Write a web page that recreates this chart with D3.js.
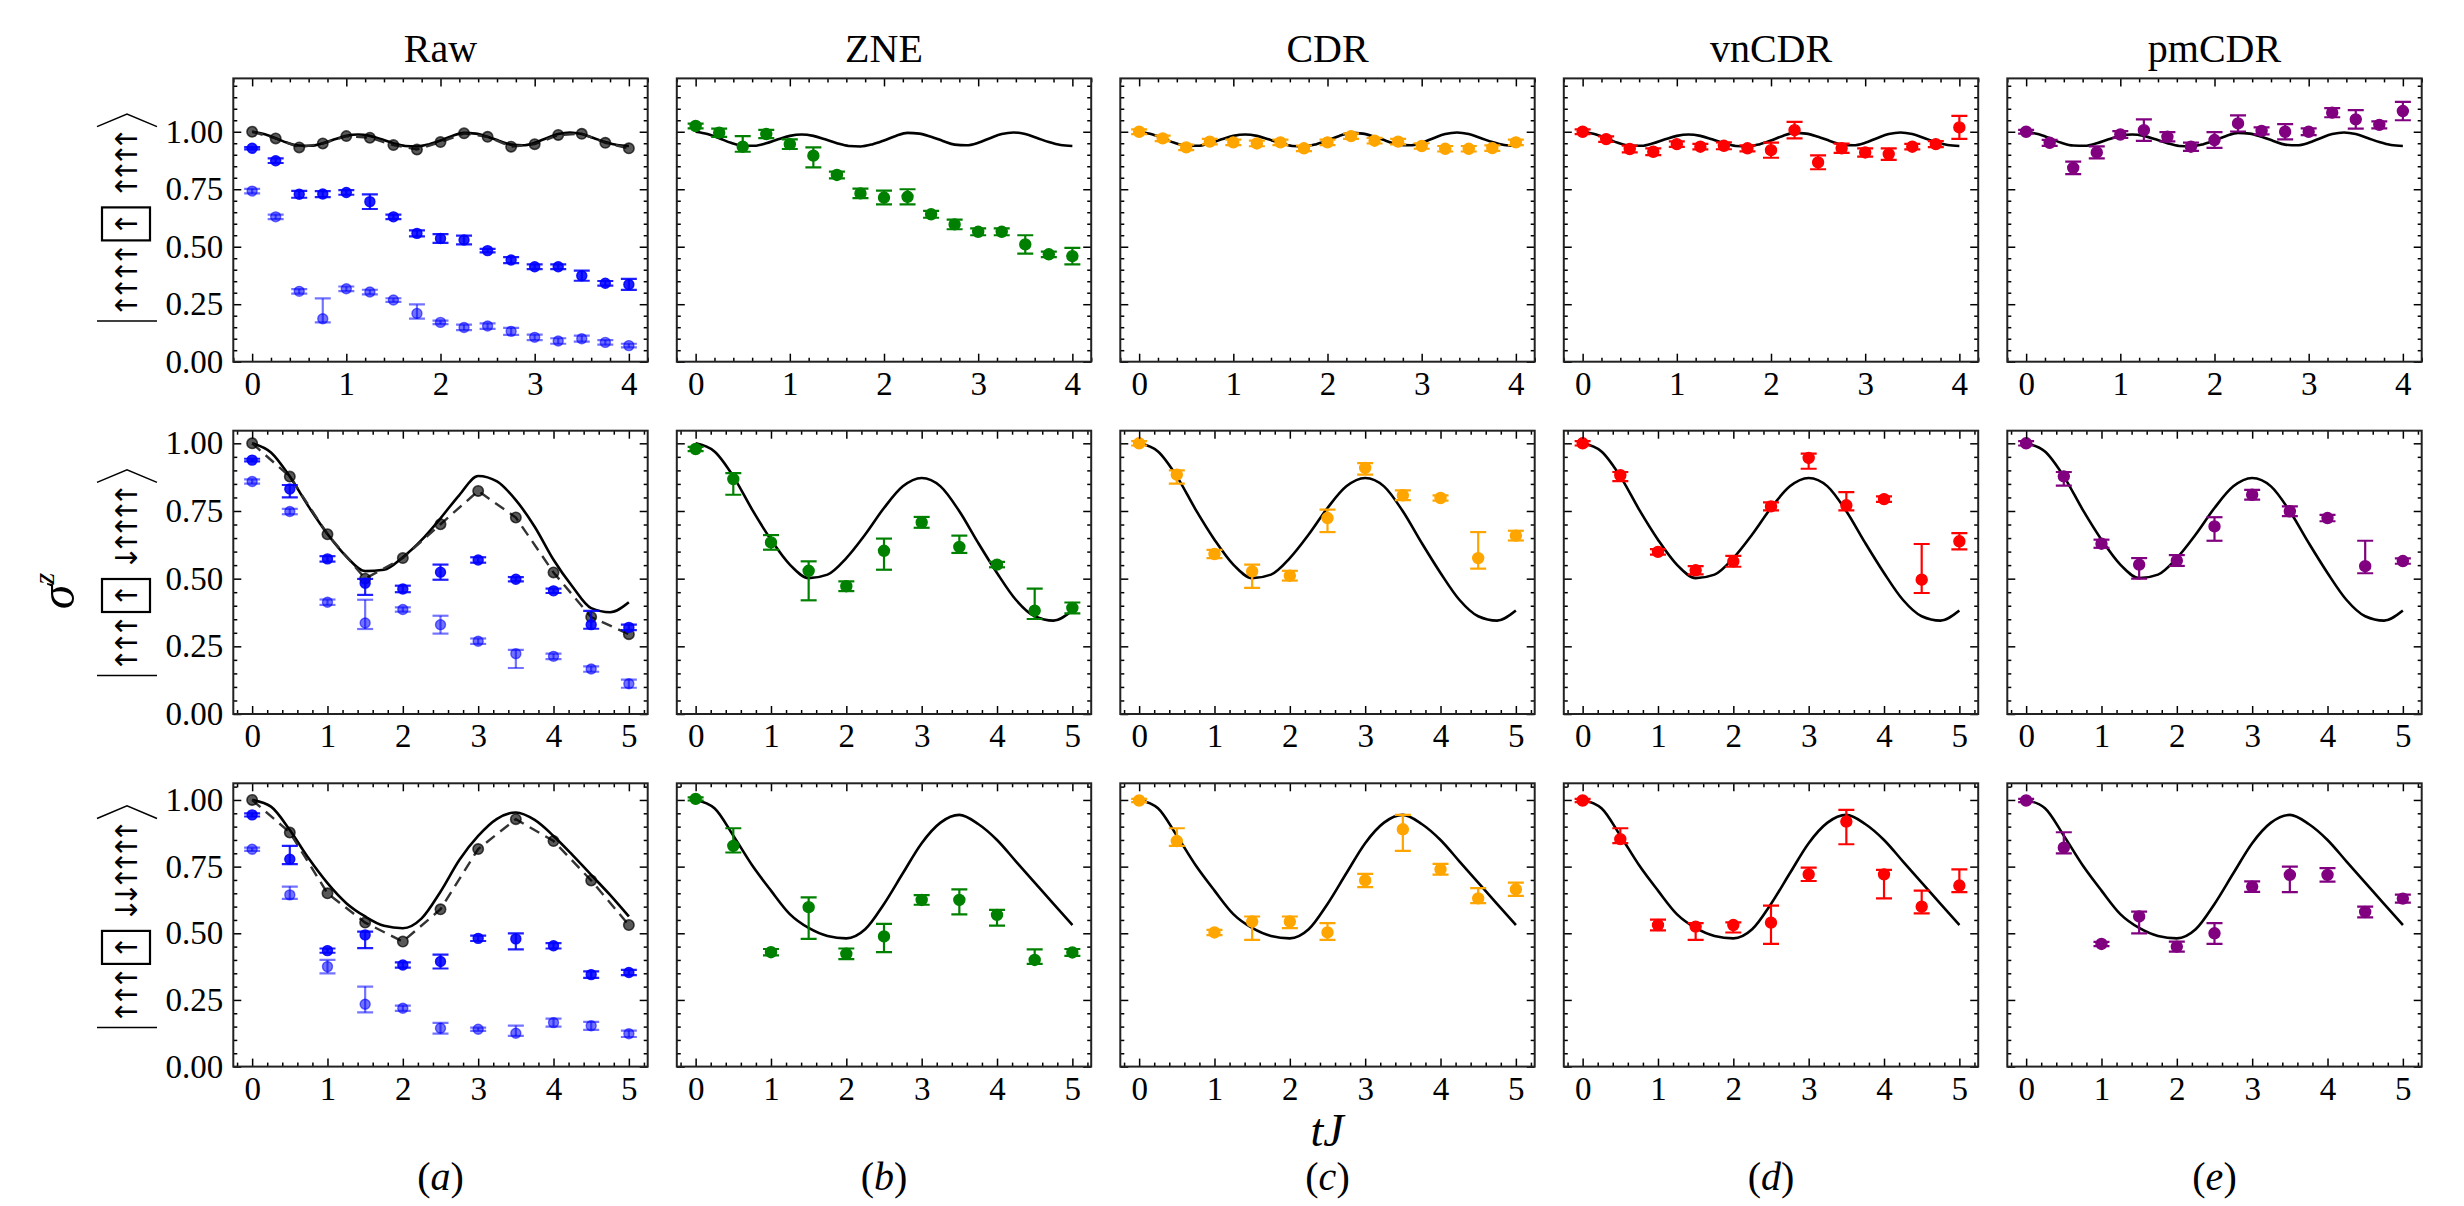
<!DOCTYPE html>
<html><head><meta charset="utf-8">
<script src="https://cdn.jsdelivr.net/npm/d3@7"></script>
<style>body{margin:0;background:#fff}</style>
</head><body><div id="chart"></div>
<script>
// ---------------- DATA ----------------
const panelTitles = ["Raw", "ZNE", "CDR", "vnCDR", "pmCDR"];
const panelLetters = ["a", "b", "c", "d", "e"];
const xTicksRow1 = [0, 1, 2, 3, 4];
const xTicksRow23 = [0, 1, 2, 3, 4, 5];
const yTicks = [0, 0.25, 0.5, 0.75, 1.0];
// ket labels (from start of text to end): u = up, d = down, B = boxed up
const ketRows = ["uuuuBuuuu", "uuuBduuuu", "uuuBdduuuu"];

const tRow1 = [0, 0.25, 0.5, 0.75, 1, 1.25, 1.5, 1.75, 2, 2.25, 2.5, 2.75, 3, 3.25, 3.5, 3.75, 4];
const tRow23 = [0, 0.5, 1, 1.5, 2, 2.5, 3, 3.5, 4, 4.5, 5];
const tCurve1 = [0, 0.125, 0.25, 0.375, 0.5, 0.625, 0.75, 0.875, 1, 1.125, 1.25, 1.375, 1.5, 1.625, 1.75, 1.875, 2,
  2.125, 2.25, 2.375, 2.5, 2.625, 2.75, 2.875, 3, 3.125, 3.25, 3.375, 3.5, 3.625, 3.75, 3.875, 4];
const tCurve23 = [0, 0.25, 0.5, 0.75, 1, 1.25, 1.5, 1.75, 2, 2.25, 2.5, 2.75, 3, 3.25, 3.5, 3.75, 4, 4.25, 4.5, 4.75, 5];

// exact curves
const exact1 = [1.000, 0.990, 0.972, 0.952, 0.940, 0.939, 0.950, 0.967, 0.982, 0.988, 0.982, 0.967, 0.950, 0.938, 0.936, 0.945, 0.962,
  0.982, 0.995, 0.992, 0.978, 0.960, 0.944, 0.941, 0.952, 0.972, 0.990, 0.997, 0.990, 0.973, 0.955, 0.942, 0.938];
const rawExact2 = [1.0, 0.966, 0.877, 0.766, 0.665, 0.582, 0.528, 0.533, 0.579, 0.643, 0.723, 0.809, 0.879, 0.859, 0.79, 0.692, 0.57, 0.471, 0.391, 0.376, 0.413];
const exact2 = [1.0, 0.97, 0.878, 0.755, 0.644, 0.552, 0.502, 0.515, 0.576, 0.663, 0.761, 0.841, 0.872, 0.841, 0.749, 0.632, 0.521, 0.422, 0.361, 0.345, 0.382];
const rawExact3 = [1.0, 0.975, 0.887, 0.781, 0.688, 0.613, 0.563, 0.528, 0.519, 0.556, 0.656, 0.775, 0.865, 0.929, 0.953, 0.925, 0.865, 0.794, 0.719, 0.644, 0.563];
const exact3 = [1.0, 0.969, 0.866, 0.755, 0.66, 0.572, 0.52, 0.49, 0.481, 0.515, 0.61, 0.725, 0.838, 0.915, 0.944, 0.91, 0.85, 0.77, 0.69, 0.61, 0.531];

// ---- row 1 ----
const rawBlack1 = [1.0, 0.971, 0.932, 0.949, 0.981, 0.974, 0.942, 0.923, 0.955, 0.993, 0.978, 0.935, 0.946, 0.986, 0.991, 0.952, 0.928];
const rawDark1 = [0.928, 0.874, 0.728, 0.729, 0.736, 0.696, 0.630, 0.558, 0.536, 0.529, 0.483, 0.442, 0.413, 0.413, 0.374, 0.341, 0.336];
const rawDark1Lo = [0.005, 0.01, 0.015, 0.013, 0.01, 0.032, 0.01, 0.013, 0.019, 0.019, 0.008, 0.013, 0.01, 0.01, 0.022, 0.01, 0.024];
const rawDark1Hi = [0.005, 0.01, 0.015, 0.013, 0.01, 0.032, 0.01, 0.013, 0.019, 0.019, 0.008, 0.013, 0.01, 0.01, 0.022, 0.01, 0.024];
const rawLight1 = [0.742, 0.630, 0.306, 0.187, 0.317, 0.303, 0.268, 0.210, 0.171, 0.149, 0.155, 0.132, 0.106, 0.090, 0.100, 0.084, 0.070];
const rawLight1Lo = [0.01, 0.01, 0.01, 0.016, 0.01, 0.01, 0.008, 0.023, 0.008, 0.012, 0.012, 0.015, 0.012, 0.012, 0.013, 0.01, 0.008];
const rawLight1Hi = [0.01, 0.01, 0.01, 0.088, 0.01, 0.01, 0.008, 0.039, 0.008, 0.012, 0.012, 0.015, 0.012, 0.012, 0.013, 0.01, 0.008];
const zne1 = [1.025, 0.996, 0.935, 0.990, 0.946, 0.896, 0.812, 0.732, 0.714, 0.717, 0.641, 0.597, 0.565, 0.565, 0.510, 0.467, 0.459];
const zne1Lo = [0.01, 0.018, 0.022, 0.018, 0.021, 0.051, 0.015, 0.021, 0.03, 0.033, 0.015, 0.021, 0.015, 0.015, 0.04, 0.012, 0.036];
const zne1Hi = [0.01, 0.018, 0.046, 0.018, 0.021, 0.036, 0.015, 0.021, 0.03, 0.033, 0.015, 0.021, 0.015, 0.015, 0.04, 0.012, 0.036];
const cdr1 = [1.0, 0.971, 0.932, 0.957, 0.954, 0.949, 0.954, 0.928, 0.954, 0.981, 0.961, 0.957, 0.938, 0.926, 0.926, 0.929, 0.954];
const cdr1Err = [0.01, 0.012, 0.012, 0.012, 0.012, 0.012, 0.012, 0.012, 0.012, 0.012, 0.012, 0.012, 0.012, 0.012, 0.012, 0.012, 0.012];
const vn1 = [1.0, 0.968, 0.925, 0.913, 0.946, 0.935, 0.939, 0.928, 0.920, 1.007, 0.867, 0.928, 0.910, 0.903, 0.935, 0.946, 1.019];
const vn1Err = [0.01, 0.012, 0.015, 0.015, 0.012, 0.012, 0.015, 0.013, 0.033, 0.036, 0.03, 0.02, 0.018, 0.025, 0.012, 0.013, 0.05];
const pm1 = [1.0, 0.952, 0.843, 0.910, 0.988, 1.007, 0.978, 0.935, 0.964, 1.036, 1.004, 1.0, 1.0, 1.083, 1.054, 1.03, 1.09];
const pm1Err = [0.008, 0.013, 0.027, 0.026, 0.015, 0.047, 0.02, 0.018, 0.034, 0.035, 0.015, 0.033, 0.015, 0.02, 0.04, 0.015, 0.04];

// ---- row 2 ----
const rawBlack2 = [1.0, 0.877, 0.664, 0.50, 0.576, 0.701, 0.824, 0.726, 0.523, 0.358, 0.295];
const rawDark2 = [0.938, 0.831, 0.573, 0.483, 0.462, 0.524, 0.569, 0.498, 0.455, 0.330, 0.320];
const rawDark2Lo = [0.005, 0.031, 0.01, 0.043, 0.012, 0.028, 0.01, 0.008, 0.008, 0.015, 0.01];
const rawDark2Hi = [0.005, 0.015, 0.01, 0.016, 0.012, 0.028, 0.01, 0.008, 0.008, 0.051, 0.01];
const rawLight2 = [0.859, 0.748, 0.413, 0.336, 0.386, 0.330, 0.269, 0.223, 0.213, 0.166, 0.112];
const rawLight2Lo = [0.008, 0.01, 0.01, 0.022, 0.008, 0.033, 0.01, 0.053, 0.01, 0.01, 0.015];
const rawLight2Hi = [0.008, 0.01, 0.01, 0.086, 0.008, 0.033, 0.01, 0.014, 0.01, 0.01, 0.015];
const zne2 = [0.979, 0.868, 0.634, 0.529, 0.472, 0.603, 0.708, 0.617, 0.552, 0.382, 0.392];
const zne2Lo = [0.008, 0.058, 0.027, 0.109, 0.018, 0.07, 0.02, 0.022, 0.01, 0.031, 0.02];
const zne2Hi = [0.008, 0.022, 0.027, 0.035, 0.018, 0.045, 0.02, 0.042, 0.01, 0.081, 0.02];
const cdr2 = [1.0, 0.884, 0.591, 0.527, 0.511, 0.724, 0.909, 0.808, 0.798, 0.576, 0.659];
const cdr2Lo = [0.008, 0.033, 0.015, 0.061, 0.018, 0.052, 0.025, 0.018, 0.01, 0.039, 0.018];
const cdr2Hi = [0.008, 0.016, 0.015, 0.025, 0.018, 0.031, 0.018, 0.018, 0.01, 0.096, 0.018];
const vn2 = [1.0, 0.882, 0.599, 0.531, 0.564, 0.767, 0.946, 0.771, 0.794, 0.496, 0.638];
const vn2Lo = [0.008, 0.022, 0.01, 0.015, 0.02, 0.015, 0.04, 0.019, 0.01, 0.049, 0.03];
const vn2Hi = [0.008, 0.012, 0.01, 0.015, 0.02, 0.015, 0.016, 0.049, 0.01, 0.132, 0.03];
const pm2 = [1.0, 0.878, 0.629, 0.552, 0.567, 0.693, 0.810, 0.749, 0.724, 0.546, 0.565];
const pm2Lo = [0.008, 0.034, 0.015, 0.052, 0.02, 0.053, 0.018, 0.018, 0.012, 0.026, 0.01];
const pm2Hi = [0.008, 0.016, 0.015, 0.024, 0.02, 0.034, 0.018, 0.018, 0.012, 0.094, 0.01];

// ---- row 3 ----
const rawBlack3 = [1.0, 0.878, 0.65, 0.54, 0.469, 0.59, 0.816, 0.928, 0.846, 0.698, 0.531];
const rawDark3 = [0.944, 0.778, 0.435, 0.494, 0.381, 0.394, 0.481, 0.479, 0.453, 0.345, 0.353];
const rawDark3Lo = [0.006, 0.019, 0.008, 0.05, 0.01, 0.026, 0.01, 0.039, 0.01, 0.012, 0.01];
const rawDark3Hi = [0.006, 0.05, 0.008, 0.012, 0.01, 0.026, 0.01, 0.021, 0.01, 0.012, 0.01];
const rawLight3 = [0.815, 0.644, 0.375, 0.234, 0.219, 0.144, 0.14, 0.125, 0.165, 0.153, 0.123];
const rawLight3Lo = [0.006, 0.015, 0.025, 0.031, 0.01, 0.02, 0.006, 0.01, 0.015, 0.015, 0.012];
const rawLight3Hi = [0.006, 0.031, 0.025, 0.066, 0.01, 0.02, 0.006, 0.029, 0.015, 0.015, 0.012];
const zne3 = [1.004, 0.828, 0.429, 0.598, 0.423, 0.488, 0.625, 0.625, 0.569, 0.40, 0.428];
const zne3Lo = [0.006, 0.025, 0.012, 0.119, 0.02, 0.059, 0.018, 0.054, 0.04, 0.015, 0.013];
const zne3Hi = [0.006, 0.066, 0.012, 0.037, 0.02, 0.047, 0.018, 0.04, 0.019, 0.04, 0.013];
const cdr3 = [0.998, 0.846, 0.503, 0.544, 0.544, 0.503, 0.698, 0.89, 0.74, 0.631, 0.665];
const cdr3Lo = [0.006, 0.018, 0.01, 0.069, 0.025, 0.028, 0.025, 0.081, 0.02, 0.018, 0.025];
const cdr3Hi = [0.006, 0.048, 0.01, 0.019, 0.019, 0.035, 0.025, 0.054, 0.02, 0.038, 0.025];
const vn3 = [0.998, 0.853, 0.531, 0.525, 0.531, 0.54, 0.721, 0.919, 0.721, 0.60, 0.679];
const vn3Lo = [0.006, 0.015, 0.02, 0.05, 0.028, 0.08, 0.025, 0.085, 0.09, 0.025, 0.025];
const vn3Hi = [0.006, 0.041, 0.02, 0.013, 0.01, 0.064, 0.025, 0.044, 0.017, 0.06, 0.061];
const pm3 = [0.998, 0.821, 0.46, 0.563, 0.45, 0.5, 0.675, 0.719, 0.719, 0.58, 0.63];
const pm3Lo = [0.006, 0.021, 0.008, 0.063, 0.019, 0.04, 0.02, 0.065, 0.025, 0.02, 0.015];
const pm3Hi = [0.006, 0.058, 0.008, 0.018, 0.019, 0.038, 0.02, 0.031, 0.025, 0.02, 0.015];

// ---------------- LAYOUT ----------------
const W = 2464, H = 1206;
const colLeft = [233.3, 676.8, 1120.3, 1563.8, 2007.3];
const pw = 414.4, ph = 283.3;
const rowTop = [78.4, 430.7, 783.3];
const yMaxRow = [1.232, 1.0466, 1.0625];
const xDomRow = [[-0.2, 4.2], [-0.25, 5.25], [-0.25, 5.25]];
const serif = "'Liberation Serif','Times New Roman',serif";

const colors = {blue: "#0000ff", green: "#008000", orange: "#ffa500", red: "#ff0000", purple: "#800080", black: "#000000"};

const rows = [
  {t: tRow1, tc: tCurve1, rawExact: exact1, exact: exact1, black: rawBlack1,
   dark: [rawDark1, rawDark1Lo, rawDark1Hi], light: [rawLight1, rawLight1Lo, rawLight1Hi],
   mit: [[zne1, zne1Lo, zne1Hi], [cdr1, cdr1Err, cdr1Err], [vn1, vn1Err, vn1Err], [pm1, pm1Err, pm1Err]], xt: xTicksRow1},
  {t: tRow23, tc: tCurve23, rawExact: rawExact2, exact: exact2, black: rawBlack2,
   dark: [rawDark2, rawDark2Lo, rawDark2Hi], light: [rawLight2, rawLight2Lo, rawLight2Hi],
   mit: [[zne2, zne2Lo, zne2Hi], [cdr2, cdr2Lo, cdr2Hi], [vn2, vn2Lo, vn2Hi], [pm2, pm2Lo, pm2Hi]], xt: xTicksRow23},
  {t: tRow23, tc: tCurve23, rawExact: rawExact3, exact: exact3, black: rawBlack3,
   dark: [rawDark3, rawDark3Lo, rawDark3Hi], light: [rawLight3, rawLight3Lo, rawLight3Hi],
   mit: [[zne3, zne3Lo, zne3Hi], [cdr3, cdr3Lo, cdr3Hi], [vn3, vn3Lo, vn3Hi], [pm3, pm3Lo, pm3Hi]], xt: xTicksRow23}
];
const mitColors = [colors.green, colors.orange, colors.red, colors.purple];

const svg = d3.select("#chart").append("svg")
  .attr("width", W).attr("height", H).attr("viewBox", `0 0 ${W} ${H}`)
  .style("background", "#fff");
svg.append("rect").attr("width", W).attr("height", H).attr("fill", "#fff");

function errorSeries(g, x, y, t, v, lo, hi, color, alpha, r) {
  const s = g.append("g");
  t.forEach((ti, i) => {
    const cx = x(ti), y0 = y(v[i] - lo[i]), y1 = y(v[i] + hi[i]);
    s.append("line").attr("x1", cx).attr("x2", cx).attr("y1", y0).attr("y2", y1)
      .attr("stroke", color).attr("stroke-opacity", alpha).attr("stroke-width", 2.2);
    [y0, y1].forEach(yy => s.append("line").attr("x1", cx - 8).attr("x2", cx + 8).attr("y1", yy).attr("y2", yy)
      .attr("stroke", color).attr("stroke-opacity", alpha).attr("stroke-width", 2.2));
    s.append("circle").attr("cx", cx).attr("cy", y(v[i])).attr("r", r)
      .attr("fill", color).attr("fill-opacity", alpha)
      .attr("stroke", color).attr("stroke-opacity", alpha).attr("stroke-width", 1.4);
  });
}

function drawAxes(g, x, y, row, col, yMax) {
  const xt = rows[row].xt;
  const xd = x.domain();
  const xMinor = d3.range(-0.2, xd[1] + 1e-6, 0.2).map(d => Math.round(d * 100) / 100)
    .filter(d => d >= xd[0] && Math.abs(d - Math.round(d)) > 1e-6);
  const yMinor = d3.range(0, yMax + 1e-6, 0.05).map(d => Math.round(d * 100) / 100)
    .filter(d => Math.abs(d * 4 - Math.round(d * 4)) > 1e-6);
  const tickStyle = sel => { sel.select(".domain").remove(); sel.selectAll("line").attr("stroke", "#000").attr("stroke-width", 1.5); };
  g.append("g").attr("transform", `translate(0,${ph})`)
    .call(d3.axisBottom(x).tickValues(xt).tickSize(-8).tickPadding(10).tickFormat(d3.format("d")))
    .call(tickStyle)
    .call(s => s.selectAll("text").attr("font-family", serif).attr("font-size", 33).attr("fill", "#000"));
  g.append("g").attr("transform", `translate(0,${ph})`)
    .call(d3.axisBottom(x).tickValues(xMinor).tickSize(-4).tickFormat("")).call(tickStyle);
  g.append("g").call(d3.axisTop(x).tickValues(xt).tickSize(-8).tickFormat("")).call(tickStyle);
  g.append("g").call(d3.axisTop(x).tickValues(xMinor).tickSize(-4).tickFormat("")).call(tickStyle);
  g.append("g")
    .call(d3.axisLeft(y).tickValues(yTicks).tickSize(-8).tickPadding(10).tickFormat(col === 0 ? d3.format(".2f") : ""))
    .call(tickStyle)
    .call(s => s.selectAll("text").attr("font-family", serif).attr("font-size", 33).attr("fill", "#000"));
  g.append("g").call(d3.axisLeft(y).tickValues(yMinor).tickSize(-4).tickFormat("")).call(tickStyle);
  g.append("g").attr("transform", `translate(${pw},0)`)
    .call(d3.axisRight(y).tickValues(yTicks).tickSize(-8).tickFormat("")).call(tickStyle);
  g.append("g").attr("transform", `translate(${pw},0)`)
    .call(d3.axisRight(y).tickValues(yMinor).tickSize(-4).tickFormat("")).call(tickStyle);
  g.append("rect").attr("width", pw).attr("height", ph).attr("fill", "none")
    .attr("stroke", "#222").attr("stroke-width", 2);
}

rows.forEach((R, ri) => {
  const yMax = yMaxRow[ri];
  const y = d3.scaleLinear().domain([0, yMax]).range([ph, 0]);
  for (let ci = 0; ci < 5; ci++) {
    const x = d3.scaleLinear().domain(xDomRow[ri]).range([0, pw]);
    const g = svg.append("g").attr("transform", `translate(${colLeft[ci]},${rowTop[ri]})`);
    const clipId = `clip-${ri}-${ci}`;
    g.append("clipPath").attr("id", clipId).append("rect").attr("width", pw).attr("height", ph);
    const inner = g.append("g").attr("clip-path", `url(#${clipId})`);
    const curve = d3.line().x((d, i) => x(R.tc[i])).y(d => y(d)).curve(d3.curveMonotoneX);
    if (ci === 0) {
      errorSeries(inner, x, y, R.t, R.light[0], R.light[1], R.light[2], colors.blue, 0.55, 5);
      inner.append("path").attr("d", curve(R.rawExact)).attr("fill", "none")
        .attr("stroke", "#000").attr("stroke-width", 2.6);
      const lin = d3.line().x((d, i) => x(R.t[i])).y(d => y(d));
      inner.append("path").attr("d", lin(R.black)).attr("fill", "none")
        .attr("stroke", "#333").attr("stroke-width", 2.4).attr("stroke-dasharray", "11,7");
      R.black.forEach((v, i) => inner.append("circle").attr("cx", x(R.t[i])).attr("cy", y(v)).attr("r", 5.2)
        .attr("fill", "#000").attr("fill-opacity", 0.65).attr("stroke", "#000").attr("stroke-opacity", 0.7).attr("stroke-width", 1.6));
      errorSeries(inner, x, y, R.t, R.dark[0], R.dark[1], R.dark[2], colors.blue, 0.88, 5);
    } else {
      inner.append("path").attr("d", curve(R.exact)).attr("fill", "none")
        .attr("stroke", "#000").attr("stroke-width", 2.6);
      const m = R.mit[ci - 1];
      errorSeries(inner, x, y, R.t, m[0], m[1], m[2], mitColors[ci - 1], 1, 5.5);
    }
    drawAxes(g, x, y, ri, ci, yMax);
    if (ri === 0) {
      svg.append("text").attr("x", colLeft[ci] + pw / 2).attr("y", 62).attr("text-anchor", "middle")
        .attr("font-family", serif).attr("font-size", 40).attr("fill", "#000").text(panelTitles[ci]);
    }
    if (ri === 2) {
      const tx = svg.append("text").attr("x", colLeft[ci] + pw / 2).attr("y", 1190).attr("text-anchor", "middle")
        .attr("font-family", serif).attr("font-size", 40).attr("fill", "#000");
      tx.append("tspan").text("(");
      tx.append("tspan").attr("font-style", "italic").text(panelLetters[ci]);
      tx.append("tspan").text(")");
    }
  }
});

// ket labels (rotated, reading upward)
const ketBarY = [321, 675.6, 1027.5];
const ketCx = 126;
ketRows.forEach((k, ri) => {
  const g = svg.append("g");
  let pos = ketBarY[ri];
  g.append("line").attr("x1", ketCx - 29).attr("x2", ketCx + 31).attr("y1", pos).attr("y2", pos)
    .attr("stroke", "#000").attr("stroke-width", 1.5);
  let p = pos - 15.6;
  let step = 17;
  const arrow = (py, ch) => g.append("text")
    .attr("transform", `translate(${ketCx},${py}) rotate(-90)`)
    .attr("text-anchor", "middle").attr("dominant-baseline", "central")
    .attr("font-family", "'DejaVu Sans','Noto Sans',sans-serif").attr("font-size", 30).attr("fill", "#000").text(ch);
  let last = p;
  for (let i = 0; i < k.length; i++) {
    const c = k[i];
    if (c === "B") {
      const b0 = p + 17 - 14; // box start (bottom)
      const b1 = b0 - 33;
      g.append("rect").attr("x", ketCx - 24).attr("y", b1).attr("width", 48).attr("height", 33)
        .attr("fill", "none").attr("stroke", "#000").attr("stroke-width", 2.2);
      arrow((b0 + b1) / 2, "↑");
      p = b1 - 21; step = 15.8;
      continue;
    }
    arrow(p, c === "u" ? "↑" : "↓");
    last = p;
    p -= step;
  }
  const apex = last - 25;
  g.append("path").attr("d", `M${ketCx - 29},${apex + 12.6} L${ketCx + 1},${apex} L${ketCx + 31},${apex + 12.6}`)
    .attr("fill", "none").attr("stroke", "#000").attr("stroke-width", 1.5);
});

// sigma^z y label
const sl = svg.append("text").attr("transform", "translate(74,591) rotate(-90)").attr("text-anchor", "middle")
  .attr("font-family", serif).attr("font-size", 50).attr("fill", "#000");
sl.append("tspan").attr("font-style", "italic").text("σ");
sl.append("tspan").attr("font-style", "italic").attr("font-size", 30).attr("dy", -20).text("z");

// tJ x label
svg.append("text").attr("x", 1327).attr("y", 1146).attr("text-anchor", "middle")
  .attr("font-family", serif).attr("font-size", 46).attr("font-style", "italic").attr("fill", "#000").text("tJ");
</script>
</body></html>
